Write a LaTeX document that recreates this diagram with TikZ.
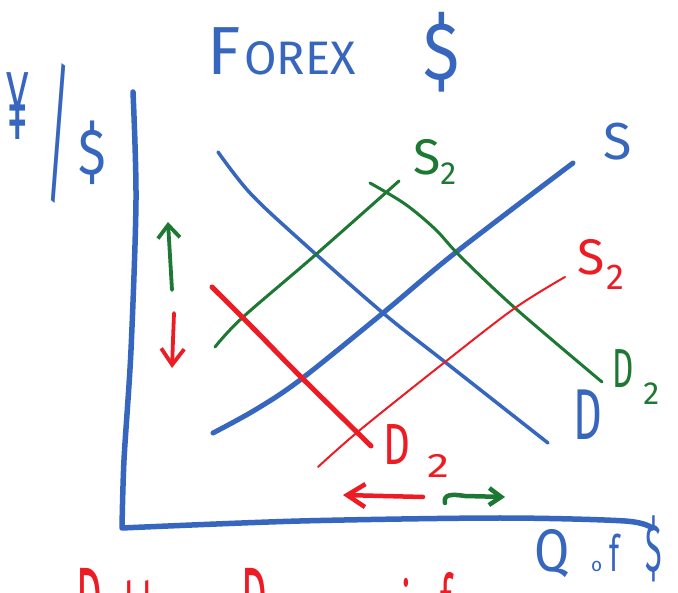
\documentclass[tikz,border=0pt]{standalone}
\usepackage{fontspec}
\setmainfont{Fira Sans}
\usetikzlibrary{arrows.meta}
\definecolor{hblue}{RGB}{55,102,190}
\definecolor{hgreen}{RGB}{28,120,50}
\definecolor{hred}{RGB}{237,28,36}
\newcommand{\fs}[1]{\fontsize{#1}{#1}\selectfont}
\begin{document}
\begin{tikzpicture}[x=1pt,y=-1pt,line cap=round,line join=round,
  lbl/.style={inner sep=0pt,outer sep=0pt,anchor=base west},
  axisline/.style={hblue,line width=5.5pt},
  curvebase/.style={smooth,tension=0.55}]
\useasboundingbox (0,0) rectangle (678,593);
\fill[white] (0,0) rectangle (678,593);

% axes
\draw[axisline] plot[smooth,tension=0.5] coordinates {(133,92) (136,200) (131,350) (124,460) (122,528)}
  -- plot[smooth,tension=0.5] coordinates {(122,528) (300,521) (500,518) (625,521) (652,528)};

% curves
\draw[hblue,line width=3.5pt] plot[curvebase] coordinates {(218,152) (250,193) (300,240) (383,313) (445,362) (548,443)};
\draw[hblue,line width=5pt] plot[curvebase] coordinates {(213,433) (255,410) (300,380) (383,313) (455,253) (573,163)};
\draw[hgreen,line width=3pt] plot[curvebase] coordinates {(215,347) (242,318) (313,257) (399,181)};
\draw[hgreen,line width=3pt] plot[curvebase] coordinates {(370,183) (405,204) (435,229) (460,256) (515,308) (602,382)};
\draw[hred,line width=2pt] plot[curvebase] coordinates {(318,467) (360,430) (445,362) (515,308) (565,277)};
\draw[hred,line width=5pt] plot[curvebase] coordinates {(212,287) (255,330) (300,376) (371,446)};

% arrows
\coordinate (gupA) at (172,290);
\coordinate (gupB) at (168,222);
\coordinate (rdnA) at (174,313);
\coordinate (rdnB) at (172,368);
\coordinate (rlfA) at (423,497);
\coordinate (rlfB) at (343,495);
\coordinate (grtA) at (445,503);
\coordinate (grtB) at (505,497);
\draw[hgreen,line width=3.8pt,-{Straight Barb[length=13pt,width=22pt]}] (gupA) -- (gupB);
\draw[hred,line width=3.8pt,-{Straight Barb[length=16pt,width=23pt]}] (rdnA) -- (rdnB);
\draw[hred,line width=4.5pt,-{Straight Barb[length=18pt,width=23pt]}] (rlfA) -- (rlfB);
\draw[hgreen,line width=4.5pt,-{Straight Barb[length=12pt,width=17pt]}] (grtA) .. controls (443,494) and (452,494) .. (465,496) -- (grtB);

% title
\node[lbl,hblue] (title) at (207,75) {\fs{68}F\hspace{4pt}\fs{47}OREX};
\node[lbl,hblue] (titledollar) at (423,80) {\fs{68}\scalebox{1}[1.2]{\$}};

% y label
\node[lbl,hblue] (ylyen) at (6,140) {\fs{100}\scalebox{0.42}[1]{¥}};
\node[inner sep=0pt,anchor=south west,hblue] (ylslash) at (46,204) {\resizebox*{24pt}{140pt}{\fs{60}/}};
\node[lbl,hblue] (yldollar) at (78,175) {\fs{52}\scalebox{1}[1.25]{\$}};

% curve labels
\node[lbl,hblue] (Slab) at (603,160) {\fs{52}S};
\node[lbl,hgreen] (S2glab) at (413,175) {\fs{50}S\raisebox{-10pt}{\fs{32}2}};
\node[lbl,hred] (S2rlab) at (577,275) {\fs{50}S\hspace{2pt}\raisebox{-15pt}{\fs{36}2}};
\node[lbl,hgreen] (D2glab) at (612,388) {\fs{55}\scalebox{0.6}[1]{D}\hspace{10pt}\raisebox{-17pt}{\fs{32}2}};
\node[lbl,hblue] (Dlab) at (573,440) {\fs{72}\scalebox{0.62}[1]{D}};
\node[lbl,hred] (D2rlab) at (383,465) {\fs{58}\scalebox{0.72}[1]{D}\hspace{18pt}\raisebox{-13pt}{\fs{34}\scalebox{1.3}[1]{2}}};

% x label
\node[lbl,hblue] (xlab) at (534,572) {\fs{60}\scalebox{0.85}[1]{Q}\hspace{22pt}{\fs{19}o}\hspace{7pt}{\fs{50}\scalebox{0.6}[1]{f}}\hspace{26pt}{\fs{52}\scalebox{0.6}[1.3]{\$}}};

% bottom (cut-off) text
\begin{scope}
\clip (0,0) rectangle (678,593);
\node[lbl,hred] (bw1) at (76,634) {\fs{96}\scalebox{0.42}[1]{D}\fs{72}\scalebox{0.48}[1]{o}\hspace{2pt}\scalebox{0.48}[1]{l}\hspace{8pt}\scalebox{0.48}[1]{lar}};
\node[lbl,hred] (bw2) at (241,634) {\fs{96}\scalebox{0.42}[1]{D}\fs{72}\scalebox{0.45}[1]{ecreases}};
\node[lbl,hred] (bw3) at (401,634) {\fs{72}\scalebox{0.48}[1]{in}};
\node[lbl,hred] (bw4) at (440,634) {\fs{72}\scalebox{0.48}[1.15]{f}\scalebox{0.48}[1]{avor}};
\end{scope}
\end{tikzpicture}
\end{document}
